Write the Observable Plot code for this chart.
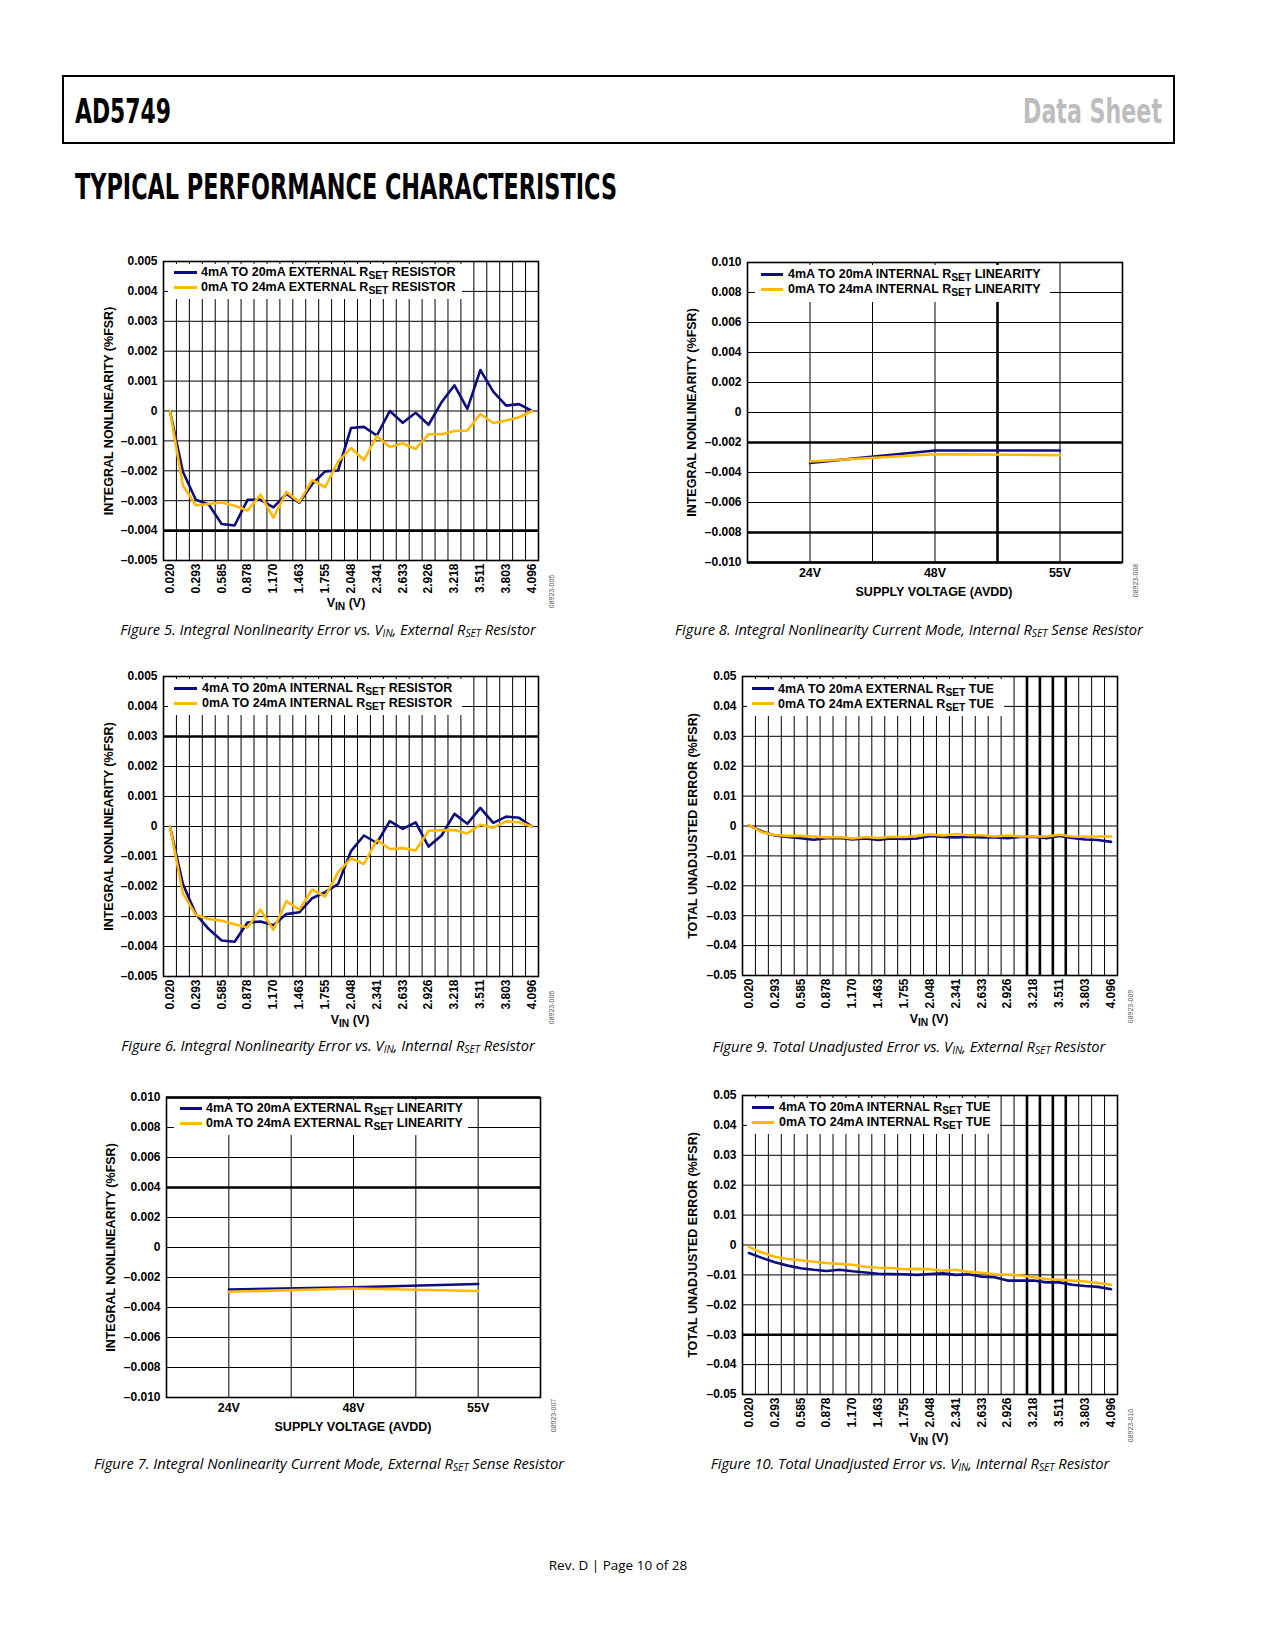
<!DOCTYPE html>
<html><head><meta charset="utf-8">
<script src="https://cdn.jsdelivr.net/npm/d3@7"></script>
<script src="https://cdn.jsdelivr.net/npm/@observablehq/plot@0.6"></script>
<style>
body{margin:0;background:#fff;}
#page{position:relative;width:1275px;height:1650px;overflow:hidden;background:#fff;}
.abs{position:absolute;}
.legend{position:absolute;background:#fff;font:bold 12.5px "Liberation Sans",Arial,sans-serif;color:#000;}
.legrow{position:absolute;white-space:nowrap;line-height:12px;transform:translateY(-50%);}
.sw{position:absolute;height:3px;}
.sub{font-size:0.82em;position:relative;top:0.3em;}
.caption{position:absolute;font:italic 14.7px "Open Sans",sans-serif;white-space:nowrap;transform:translate(-50%,-50%);color:#000;}
.csub{font-size:0.7em;position:relative;top:0.15em;}
.xtitle{position:absolute;font:bold 12.5px "Liberation Sans",Arial,sans-serif;white-space:nowrap;transform:translate(-50%,-50%);line-height:12px;}
.footer{position:absolute;font:13.5px "Open Sans",sans-serif;white-space:nowrap;transform:translate(-50%,-50%);}
</style></head>
<body><div id="page">
<div class="abs" style="left:62px;top:75px;width:1113px;height:69px;border:2px solid #000;box-sizing:border-box;"></div>
<svg class="abs" style="left:0;top:0" width="1275" height="230">
<text x="75" y="123" font-size="33" font-weight="bold" font-family="Liberation Sans Narrow, DejaVu Sans Condensed, Liberation Sans, Arial" textLength="96" lengthAdjust="spacingAndGlyphs">AD5749</text>
<text x="1023" y="123" font-size="33" font-weight="bold" fill="#bdbdbd" font-family="Liberation Sans Narrow, DejaVu Sans Condensed, Liberation Sans, Arial" textLength="139" lengthAdjust="spacingAndGlyphs">Data Sheet</text>
<text x="75" y="199" font-size="35" font-weight="bold" font-family="Liberation Sans Narrow, DejaVu Sans Condensed, Liberation Sans, Arial" textLength="542" lengthAdjust="spacingAndGlyphs">TYPICAL PERFORMANCE CHARACTERISTICS</text>
</svg>
<div class="footer" style="left:618px;top:1565px;">Rev. D | Page 10 of 28</div>
</div>
<script>
// ---------- DATA ----------
const vinTickLabels = ["0.020","0.293","0.585","0.878","1.170","1.463","1.755","2.048","2.341","2.633","2.926","3.218","3.511","3.803","4.096"];
const vinPoints = [0.020,0.146,0.293,0.439,0.585,0.731,0.878,1.024,1.170,1.317,1.463,1.609,1.755,1.902,2.048,2.194,2.341,2.487,2.633,2.779,2.926,3.072,3.218,3.364,3.511,3.657,3.803,3.950,4.096];
const supplyLabels = ["24V","48V","55V"];

const inlTicks = [0.005,0.004,0.003,0.002,0.001,0,-0.001,-0.002,-0.003,-0.004,-0.005];
const inlSupplyTicks = [0.010,0.008,0.006,0.004,0.002,0,-0.002,-0.004,-0.006,-0.008,-0.010];
const tueTicks = [0.05,0.04,0.03,0.02,0.01,0,-0.01,-0.02,-0.03,-0.04,-0.05];

// Figure 5: INL vs VIN, external RSET
const fig5Blue   = [0,-0.00203,-0.00297,-0.00313,-0.00378,-0.00383,-0.00297,-0.00297,-0.00322,-0.00277,-0.00307,-0.00244,-0.00202,-0.00199,-0.00057,-0.00053,-0.00082,0.0,-0.00039,-0.00006,-0.00046,0.00029,0.00086,0.00007,0.00137,0.00065,0.00018,0.00023,0];
const fig5Yellow = [0,-0.00249,-0.00315,-0.00311,-0.00306,-0.00317,-0.00333,-0.0028,-0.00357,-0.00271,-0.00304,-0.00231,-0.00255,-0.00169,-0.00124,-0.00164,-0.00084,-0.0012,-0.00108,-0.00127,-0.00078,-0.00078,-0.00067,-0.00065,-0.0001,-0.0004,-0.00032,-0.00021,0];
// Figure 6: INL vs VIN, internal RSET
const fig6Blue   = [0,-0.00192,-0.00292,-0.00342,-0.0038,-0.00384,-0.0032,-0.00317,-0.00329,-0.00292,-0.00286,-0.00239,-0.00219,-0.00192,-0.00082,-0.0003,-0.00055,0.00018,-0.00008,0.00014,-0.00067,-0.0003,0.00042,0.00009,0.00062,0.00012,0.00033,0.00029,0];
const fig6Yellow = [0,-0.00223,-0.00295,-0.00308,-0.00314,-0.00326,-0.00337,-0.00277,-0.00344,-0.00249,-0.00277,-0.0021,-0.00234,-0.00153,-0.00106,-0.00125,-0.00045,-0.00075,-0.00072,-0.0008,-0.00014,-0.00012,-0.00012,-0.00023,0.00006,-0.00004,0.00017,0.00014,0];
// Figure 7: INL vs supply, external RSET
const fig7Blue   = [-0.0028,-0.00265,-0.00243];
const fig7Yellow = [-0.00295,-0.00273,-0.0029];
// Figure 8: INL vs supply, internal RSET
const fig8Blue   = [-0.00336,-0.00253,-0.00253];
const fig8Yellow = [-0.00327,-0.00278,-0.00284];
// Figure 9: TUE vs VIN, external RSET
const fig9Blue   = [0.0002,-0.0018,-0.0032,-0.0037,-0.0041,-0.0046,-0.0041,-0.004,-0.0045,-0.0042,-0.0047,-0.0042,-0.0043,-0.0042,-0.0033,-0.0037,-0.0038,-0.0036,-0.0038,-0.0038,-0.0041,-0.0037,-0.0036,-0.0041,-0.0033,-0.004,-0.0045,-0.0047,-0.0053];
const fig9Yellow = [0.0003,-0.0021,-0.003,-0.0033,-0.0033,-0.0035,-0.0038,-0.0037,-0.0042,-0.0037,-0.004,-0.0036,-0.0037,-0.0033,-0.0028,-0.0032,-0.0027,-0.0031,-0.0031,-0.0035,-0.0032,-0.0035,-0.0035,-0.0035,-0.0029,-0.0035,-0.0036,-0.0035,-0.0035];
// Figure 10: TUE vs VIN, internal RSET
const fig10Blue   = [-0.0027,-0.0043,-0.0058,-0.0069,-0.0078,-0.0083,-0.0087,-0.0083,-0.0088,-0.0092,-0.0096,-0.0097,-0.0098,-0.01,-0.0097,-0.0095,-0.01,-0.0098,-0.0106,-0.0108,-0.0119,-0.0119,-0.0119,-0.0125,-0.0125,-0.0133,-0.0137,-0.014,-0.0148];
const fig10Yellow = [-0.0007,-0.0025,-0.0039,-0.0047,-0.0051,-0.0056,-0.006,-0.0063,-0.0066,-0.0073,-0.0076,-0.0077,-0.0081,-0.008,-0.0081,-0.0086,-0.0083,-0.009,-0.0093,-0.0098,-0.0099,-0.0102,-0.0108,-0.0114,-0.0116,-0.0119,-0.0122,-0.0127,-0.0133];

// ---------- HELPERS ----------
const BLUE = "#0d0d80", YELLOW = "#ffb900";
const FONT = '"Liberation Sans", Arial, Helvetica, sans-serif';
const dash = "\u2013";
const fmt = dec => d => Math.abs(d) < 1e-12 ? "0" : (d < 0 ? dash : "") + Math.abs(d).toFixed(dec);
const page = document.getElementById("page");

function vinChart(blue, yellow) {
  const n = vinPoints.length;
  return {
    xDomain: [-0.5, n - 0.5],
    xGrid: d3.range(0.5, n - 0.5, 1),
    xTicks: d3.range(0, n, 2),
    xFmt: i => vinTickLabels[i / 2],
    rotate: true,
    rows: vinPoints.map((v, i) => ({pos: i, blue: blue[i], yellow: yellow[i]}))
  };
}
function supplyChart(blue, yellow) {
  const n = supplyLabels.length;
  return {
    xDomain: [0, 2 * n],
    xGrid: d3.range(1, 2 * n, 1),
    xTicks: d3.range(1, 2 * n, 2),
    xFmt: p => supplyLabels[(p - 1) / 2],
    rotate: false,
    rows: supplyLabels.map((s, i) => ({pos: 2 * i + 1, blue: blue[i], yellow: yellow[i]}))
  };
}

function draw(cfg) {
  const ML = 80, MR = 30, MT = 6, MB = 60;
  const W = cfg.w + ML + MR, H = cfg.h + MT + MB;
  const marks = [
    Plot.ruleY(cfg.yTicks, {stroke: "#000", strokeWidth: 1}),
    Plot.ruleX(cfg.xGrid, {stroke: "#000", strokeWidth: 1}),
    Plot.ruleY(cfg.thickY || [], {stroke: "#000", strokeWidth: 2.6}),
    Plot.ruleX(cfg.thickX || [], {stroke: "#000", strokeWidth: 2.6}),
    Plot.frame({stroke: "#000", strokeWidth: 1.6}),
    Plot.line(cfg.rows, {x: "pos", y: "blue", stroke: BLUE, strokeWidth: 2.6, strokeLinejoin: "round"}),
    Plot.line(cfg.rows, {x: "pos", y: "yellow", stroke: YELLOW, strokeWidth: 2.6, strokeLinejoin: "round"}),
    Plot.axisY(cfg.yTicks, {tickSize: 0, tickPadding: 6, tickFormat: cfg.yFmt, label: null, fontSize: 12, fontWeight: "bold"}),
    cfg.rotate
      ? Plot.axisX(cfg.xTicks, {tickSize: 0, tickPadding: 3, tickRotate: -90, tickFormat: cfg.xFmt, label: null, fontSize: 12, fontWeight: "bold"})
      : Plot.axisX(cfg.xTicks, {tickSize: 0, tickPadding: 6, tickFormat: cfg.xFmt, label: null, fontSize: 12.5, fontWeight: "bold"}),
    Plot.text([cfg.yLabel], {text: d => d, frameAnchor: "left", dx: -cfg.yLabelDx, rotate: -90, textAnchor: "middle", lineAnchor: "middle", fontSize: 12.5, fontWeight: "bold"}),
    Plot.text([cfg.code], {text: d => d, frameAnchor: "bottom-right", dx: 13, dy: cfg.codeDy, rotate: -90, textAnchor: "middle", lineAnchor: "middle", fontSize: 7, fontWeight: "normal", fill: "#555"})
  ];
  const svg = Plot.plot({
    width: W, height: H,
    marginLeft: ML, marginRight: MR, marginTop: MT, marginBottom: MB,
    x: {domain: cfg.xDomain},
    y: {domain: cfg.yDomain},
    style: {fontFamily: FONT, fontSize: "12px", fontWeight: "bold", background: "transparent", color: "#000", overflow: "visible"},
    marks
  });
  svg.style.position = "absolute";
  svg.style.left = (cfg.L - ML) + "px";
  svg.style.top = (cfg.T - MT) + "px";
  svg.style.maxWidth = "none";
  page.appendChild(svg);

  // legend box (white background covering the grid)
  const lg = cfg.legend;
  const box = document.createElement("div");
  box.className = "legend";
  box.style.left = (cfg.L + lg.box[0]) + "px";
  box.style.top = (cfg.T + lg.box[1]) + "px";
  box.style.width = (lg.box[2] - lg.box[0]) + "px";
  box.style.height = (lg.box[3] - lg.box[1]) + "px";
  [[BLUE, cfg.series[0]], [YELLOW, cfg.series[1]]].forEach(([c, label], k) => {
    const ry = lg.rows[k] - lg.box[1];
    const sw = document.createElement("div");
    sw.className = "sw";
    sw.style.background = c;
    sw.style.left = (lg.sw[0] - lg.box[0]) + "px";
    sw.style.width = (lg.sw[1] - lg.sw[0]) + "px";
    sw.style.top = (ry - 1.5) + "px";
    box.appendChild(sw);
    const t = document.createElement("div");
    t.className = "legrow";
    t.style.left = (lg.tx - lg.box[0]) + "px";
    t.style.top = ry + "px";
    t.innerHTML = label;
    box.appendChild(t);
  });
  page.appendChild(box);

  const xt = document.createElement("div");
  xt.className = "xtitle";
  xt.style.left = cfg.xTitle[1] + "px";
  xt.style.top = cfg.xTitle[2] + "px";
  xt.innerHTML = cfg.xTitle[0];
  page.appendChild(xt);

  const cap = document.createElement("div");
  cap.className = "caption";
  cap.style.left = cfg.caption[1] + "px";
  cap.style.top = cfg.caption[2] + "px";
  cap.innerHTML = cfg.caption[0];
  page.appendChild(cap);
}

const RSET = 'R<span class="sub">SET</span>';
const cR = 'R<span class="csub">SET</span>';
const cV = 'V<span class="csub">IN</span>';
const VIN_T = 'V<span class="sub">IN</span> (V)';
const INL = "INTEGRAL NONLINEARITY (%FSR)";
const TUE = "TOTAL UNADJUSTED ERROR (%FSR)";

draw(Object.assign(vinChart(fig5Blue, fig5Yellow), {
  L: 163, T: 261, w: 375, h: 299, yDomain: [-0.005, 0.005], yTicks: inlTicks, yFmt: fmt(3),
  thickY: [-0.004], yLabel: INL, yLabelDx: 55, code: "08923-005", codeDy: 31,
  series: ["4mA TO 20mA EXTERNAL " + RSET + " RESISTOR", "0mA TO 24mA EXTERNAL " + RSET + " RESISTOR"],
  legend: {box: [5, 3, 299, 38], sw: [11, 34], tx: 38, rows: [11, 26]},
  xTitle: [VIN_T, 346, 603],
  caption: ["Figure 5. Integral Nonlinearity Error vs. " + cV + ", External " + cR + " Resistor", 328, 629]
}));
draw(Object.assign(vinChart(fig6Blue, fig6Yellow), {
  L: 163, T: 676, w: 375, h: 300, yDomain: [-0.005, 0.005], yTicks: inlTicks, yFmt: fmt(3),
  thickY: [0.003], yLabel: INL, yLabelDx: 55, code: "08923-006", codeDy: 31,
  series: ["4mA TO 20mA INTERNAL " + RSET + " RESISTOR", "0mA TO 24mA INTERNAL " + RSET + " RESISTOR"],
  legend: {box: [5, 3, 299, 39], sw: [11, 34], tx: 39, rows: [12, 27]},
  xTitle: [VIN_T, 350, 1020],
  caption: ["Figure 6. Integral Nonlinearity Error vs. " + cV + ", Internal " + cR + " Resistor", 328, 1045]
}));
draw(Object.assign(supplyChart(fig7Blue, fig7Yellow), {
  L: 166, T: 1097, w: 374, h: 300, yDomain: [-0.010, 0.010], yTicks: inlSupplyTicks, yFmt: fmt(3),
  thickY: [0.004, 0.010], yLabel: INL, yLabelDx: 56, code: "08923-007", codeDy: 18,
  series: ["4mA TO 20mA EXTERNAL " + RSET + " LINEARITY", "0mA TO 24mA EXTERNAL " + RSET + " LINEARITY"],
  legend: {box: [8, 3, 302, 38], sw: [14, 36], tx: 40, rows: [11, 26]},
  xTitle: ["SUPPLY VOLTAGE (AVDD)", 353, 1427],
  caption: ["Figure 7. Integral Nonlinearity Current Mode, External " + cR + " Sense Resistor", 329, 1463]
}));
draw(Object.assign(supplyChart(fig8Blue, fig8Yellow), {
  L: 747, T: 262, w: 375, h: 300, yDomain: [-0.010, 0.010], yTicks: inlSupplyTicks, yFmt: fmt(3),
  thickY: [-0.002, -0.008, -0.010], thickX: [4], yLabel: INL, yLabelDx: 56, code: "08923-008", codeDy: 18,
  series: ["4mA TO 20mA INTERNAL " + RSET + " LINEARITY", "0mA TO 24mA INTERNAL " + RSET + " LINEARITY"],
  legend: {box: [8, 3, 303, 40], sw: [14, 36], tx: 41, rows: [12, 27]},
  xTitle: ["SUPPLY VOLTAGE (AVDD)", 934, 592],
  caption: ["Figure 8. Integral Nonlinearity Current Mode, Internal " + cR + " Sense Resistor", 909, 629]
}));
draw(Object.assign(vinChart(fig9Blue, fig9Yellow), {
  L: 742, T: 676, w: 375, h: 299, yDomain: [-0.05, 0.05], yTicks: tueTicks, yFmt: fmt(2),
  thickX: [21.5, 22.5, 23.5, 24.5], yLabel: TUE, yLabelDx: 50, code: "08923-009", codeDy: 31,
  series: ["4mA TO 20mA EXTERNAL " + RSET + " TUE", "0mA TO 24mA EXTERNAL " + RSET + " TUE"],
  legend: {box: [5, 3, 262, 40], sw: [10, 32], tx: 36, rows: [12.6, 27.6]},
  xTitle: [VIN_T, 929, 1019],
  caption: ["Figure 9. Total Unadjusted Error vs. " + cV + ", External " + cR + " Resistor", 909, 1046]
}));
draw(Object.assign(vinChart(fig10Blue, fig10Yellow), {
  L: 742, T: 1095, w: 375, h: 299, yDomain: [-0.05, 0.05], yTicks: tueTicks, yFmt: fmt(2),
  thickY: [-0.03], thickX: [21.5, 22.5, 23.5, 24.5], yLabel: TUE, yLabelDx: 50, code: "08923-010", codeDy: 31,
  series: ["4mA TO 20mA INTERNAL " + RSET + " TUE", "0mA TO 24mA INTERNAL " + RSET + " TUE"],
  legend: {box: [5, 3, 258, 39], sw: [10, 32], tx: 37, rows: [12, 27]},
  xTitle: [VIN_T, 929, 1438],
  caption: ["Figure 10. Total Unadjusted Error vs. " + cV + ", Internal " + cR + " Resistor", 910, 1463]
}));
</script>
</body></html>
